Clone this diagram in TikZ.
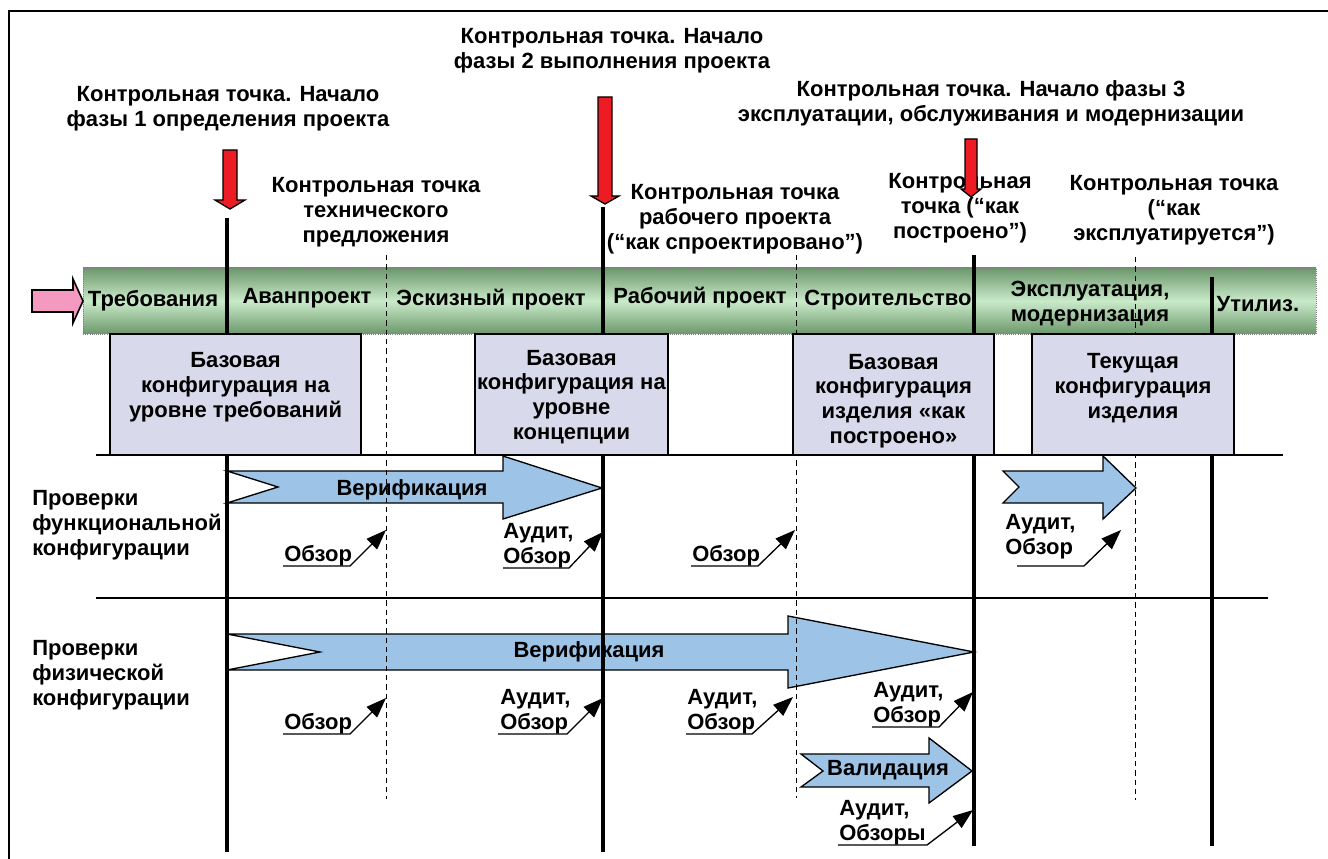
\documentclass[tikz,border=0pt]{standalone}
\usepackage{fontspec}
\setmainfont{Liberation Sans}
\usetikzlibrary{arrows.meta,fit}
\definecolor{bluearr}{RGB}{157,195,230}
\definecolor{redarr}{RGB}{237,28,36}
\definecolor{pinkarr}{RGB}{244,154,193}
\definecolor{cfgfill}{RGB}{217,217,236}
\definecolor{bandedge}{RGB}{108,152,108}
\definecolor{bandmid}{RGB}{202,234,202}
\begin{document}
\begin{tikzpicture}[x=0.75pt,y=-0.75pt,
  lbl/.style={font=\bfseries\fontsize{16.5}{18.6}\selectfont, align=center, inner sep=0pt},
  lbll/.style={lbl, align=left},
  milestone/.style={line width=2.3pt},
  gate/.style={line width=0.6pt, dash pattern=on 4pt off 3pt},
  redarrow/.style={fill=redarr, draw=black, line width=1pt},
  bluearrow/.style={fill=bluearr, draw=black, line width=1pt, line join=miter},
  cfgbox/.style={draw=black, fill=cfgfill, line width=1.3pt, inner sep=0pt},
  ptr/.style={line width=1pt, -{Triangle[length=15pt,width=11pt]}},
  sepline/.style={line width=1.1pt},
]
\useasboundingbox (0,0) rectangle (1328,859);
% frame
\draw[line width=1.6pt] (9,870) -- (9,11) -- (1340,11);

% band
\shade[top color=bandedge, bottom color=bandedge, middle color=bandmid] (83,268) rectangle (1316,334);
\draw[gray, densely dotted, line width=0.6pt] (83,268) rectangle (1316,334);
\draw[fill=pinkarr, line width=1.2pt] (32,290) -- (73,290) -- (73,279) -- (83,301) -- (73,323) -- (73,312) -- (32,312) -- cycle;

% blue arrows
\draw[bluearrow] (227,471) -- (503,471) -- (503,456) -- (602,488) -- (503,519) -- (503,503) -- (227,503) -- (278,487) -- cycle;
\draw[bluearrow] (1003,471) -- (1103,471) -- (1103,456) -- (1136,488) -- (1103,519) -- (1103,503) -- (1003,503) -- (1019,487) -- cycle;
\draw[bluearrow] (227,634) -- (788,634) -- (788,616) -- (974,652) -- (788,688) -- (788,670) -- (227,670) -- (320,652) -- cycle;
\draw[bluearrow] (801,754) -- (929,754) -- (929,738) -- (972,771) -- (929,803) -- (929,787) -- (801,787) -- (823,771) -- cycle;

% separators
\coordinate (s1a) at (96,455); \coordinate (s1b) at (1283,455);
\coordinate (s2a) at (96,598); \coordinate (s2b) at (1268,598);
\draw[sepline] (s1a) -- (s1b);
\draw[sepline] (s2a) -- (s2b);

% gates (dashed)
\coordinate (d1t) at (386,255); \coordinate (d1b) at (386,799);
\coordinate (d2t) at (796,255); \coordinate (d2b) at (796,798);
\coordinate (d3t) at (1135,257); \coordinate (d3b) at (1135,800);
\draw[gate] (d1t) -- (d1b);
\draw[gate] (d2t) -- (d2b);
\draw[gate] (d3t) -- (d3b);

% milestones (solid)
\coordinate (m1t) at (227,218); \coordinate (m1b) at (227,852);
\coordinate (m2t) at (603,207); \coordinate (m2b) at (603,852);
\coordinate (m3t) at (974,255); \coordinate (m3b) at (974,846);
\coordinate (m4t) at (1212,277); \coordinate (m4b) at (1212,846);
\draw[milestone] (m1t) -- (m1b);
\draw[milestone] (m2t) -- (m2b);
\draw[milestone] (m3t) -- (m3b);
\draw[milestone] (m4t) -- (m4b);

% configuration boxes
\node[cfgbox, fit={(110,334) (361,455)}] (box1) {};
\node[cfgbox, fit={(475,334) (668,455)}] (box2) {};
\node[cfgbox, fit={(793,334) (994,455)}] (box3) {};
\node[cfgbox, fit={(1032,334) (1234,455)}] (box4) {};
\node[lbl] (box1t) at (235.5,387) {Базовая\\конфигурация на\\уровне требований};
\node[lbl] (box2t) at (571.5,397) {Базовая\\конфигурация на\\уровне\\концепции};
\node[lbl] (box3t) at (893.5,401) {Базовая\\конфигурация\\изделия «как\\построено»};
\node[lbl] (box4t) at (1133,388) {Текущая\\конфигурация\\изделия};

% top labels
\node[lbl] (t1) at (228,109) {Контрольная точка. Начало\\фазы 1 определения проекта};
\node[lbl] (t2) at (612,51) {Контрольная точка. Начало\\фазы 2 выполнения проекта};
\node[lbl] (t3) at (991,103) {Контрольная точка. Начало фазы 3\\эксплуатации, обслуживания и модернизации};
\node[lbl] (c1) at (376,212) {Контрольная точка\\технического\\предложения};
\node[lbl] (c2) at (735,219) {Контрольная точка\\рабочего проекта\\(“как спроектировано”)};
\node[lbl] (c3) at (960,208) {Контрольная\\точка (“как\\построено”)};
\node[lbl] (c4) at (1174,210) {Контрольная точка\\(“как\\эксплуатируется”)};

% phase labels
\node[lbl] (p1) at (153,301) {Требования};
\node[lbl] (p2) at (307,298) {Аванпроект};
\node[lbl] (p3) at (491,300) {Эскизный проект};
\node[lbl] (p4) at (700,298) {Рабочий проект};
\node[lbl] (p5) at (888,300) {Строительство};
\node[lbl] (p6) at (1090,304) {Эксплуатация,\\модернизация};
\node[lbl] (p7) at (1258,304) {Утилиз.};

% row labels
\node[lbll, anchor=west] (r1) at (32,525) {Проверки\\функциональной\\конфигурации};
\node[lbll, anchor=west] (r2) at (32,675) {Проверки\\физической\\конфигурации};

% arrow texts
\node[lbl] (v1) at (412,490) {Верификация};
\node[lbl] (v2) at (589,652) {Верификация};
\node[lbl] (v3) at (888,770) {Валидация};

% red milestone arrows
\draw[redarrow] (223,150) -- (237,150) -- (237,200) -- (245,200) -- (230,209) -- (215,200) -- (223,200) -- cycle;
\draw[redarrow] (598,97) -- (612,97) -- (612,196) -- (619,196) -- (605,204) -- (591,196) -- (598,196) -- cycle;
\draw[redarrow] (965,139) -- (977,139) -- (977,189) -- (981,189) -- (971,197) -- (961,189) -- (965,189) -- cycle;

% reviews, row 1
\node[lbll, anchor=south west] (f1) at (284,566) {Обзор};
\coordinate (f1a) at (283,566); \coordinate (f1b) at (350,566); \coordinate (f1c) at (386,530);
\draw[ptr] (f1a) -- (f1b) -- (f1c);
\node[lbll, anchor=south west] (f2) at (503,568) {Аудит,\\Обзор};
\coordinate (f2a) at (503,568); \coordinate (f2b) at (569,568); \coordinate (f2c) at (603,532);
\draw[ptr] (f2a) -- (f2b) -- (f2c);
\node[lbll, anchor=south west] (f3) at (692,566) {Обзор};
\coordinate (f3a) at (691,566); \coordinate (f3b) at (758,566); \coordinate (f3c) at (795,530);
\draw[ptr] (f3a) -- (f3b) -- (f3c);
\node[lbll, anchor=south west] (f4) at (1005,559) {Аудит,\\Обзор};
\coordinate (f4a) at (1017,566); \coordinate (f4b) at (1084,566); \coordinate (f4c) at (1121,530);
\draw[ptr] (f4a) -- (f4b) -- (f4c);

% reviews, row 2
\node[lbll, anchor=south west] (g1) at (284,734) {Обзор};
\coordinate (g1a) at (283,734); \coordinate (g1b) at (350,734); \coordinate (g1c) at (386,698);
\draw[ptr] (g1a) -- (g1b) -- (g1c);
\node[lbll, anchor=south west] (g2) at (500,734) {Аудит,\\Обзор};
\coordinate (g2a) at (498,734); \coordinate (g2b) at (567,734); \coordinate (g2c) at (603,698);
\draw[ptr] (g2a) -- (g2b) -- (g2c);
\node[lbll, anchor=south west] (g3) at (687,734) {Аудит,\\Обзор};
\coordinate (g3a) at (686,734); \coordinate (g3b) at (752,734); \coordinate (g3c) at (793,697);
\draw[ptr] (g3a) -- (g3b) -- (g3c);
\node[lbll, anchor=south west] (g4) at (873,727) {Аудит,\\Обзор};
\coordinate (g4a) at (872,727); \coordinate (g4b) at (939,727); \coordinate (g4c) at (973,692);
\draw[ptr] (g4a) -- (g4b) -- (g4c);
\node[lbll, anchor=south west] (g5) at (839,845) {Аудит,\\Обзоры};
\coordinate (g5a) at (838,845); \coordinate (g5b) at (927,845); \coordinate (g5c) at (973,810);
\draw[ptr] (g5a) -- (g5b) -- (g5c);
\end{tikzpicture}
\end{document}
